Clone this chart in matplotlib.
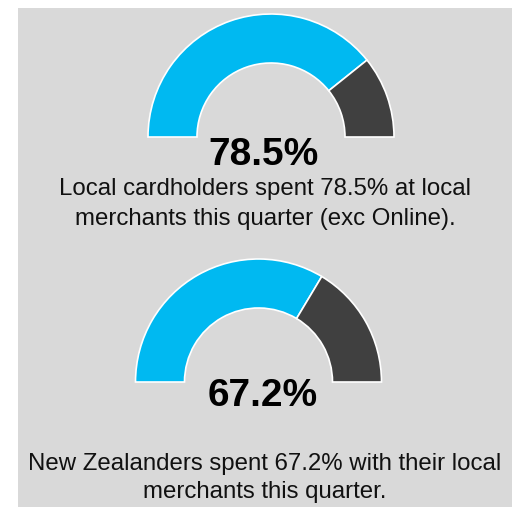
import matplotlib
matplotlib.use("Agg")
import matplotlib.pyplot as plt
from matplotlib.patches import Wedge, Rectangle

# Valeurs des jauges
valeurs = [78.5, 67.2]
libelles = ["78.5%", "67.2%"]
descriptions = [
    ["Local cardholders spent 78.5% at local", "merchants this quarter (exc Online)."],
    ["New Zealanders spent 67.2% with their local", "merchants this quarter."],
]

W, H = 512, 507
CYAN = "#00b9f1"
GRIS_FONCE = "#404040"
FOND = "#d9d9d9"

plt.rcParams["font.family"] = ["Liberation Sans", "DejaVu Sans"]

fig = plt.figure(figsize=(W / 100, H / 100), dpi=100)
ax = fig.add_axes([0, 0, 1, 1])
ax.set_xlim(0, W)
ax.set_ylim(0, H)
ax.axis("off")

# panneau gris
ax.add_patch(Rectangle((18, 0), W - 18, H - 8, facecolor=FOND, edgecolor="none", zorder=0))


def jauge(cx, cy_px, valeur, r_ext=123, r_int=74):
    """Demi-anneau : partie remplie (cyan) puis le reste (gris foncé)."""
    cy = H - cy_px
    angle = 180 - 180 * valeur / 100
    largeur = r_ext - r_int
    ax.add_patch(Wedge((cx, cy), r_ext, angle, 180, width=largeur,
                       facecolor=CYAN, edgecolor="white", linewidth=1.2, zorder=2))
    ax.add_patch(Wedge((cx, cy), r_ext, 0, angle, width=largeur,
                       facecolor=GRIS_FONCE, edgecolor="white", linewidth=1.2, zorder=2))


# positions en pixels (depuis le haut)
centres = [(271, 137), (258.5, 382)]
y_nombres = [165, 406]
x_nombres = [263.5, 263]
y_textes = [(195, 225), (470, 498)]

for i in range(2):
    jauge(centres[i][0], centres[i][1], valeurs[i])
    ax.text(x_nombres[i], H - y_nombres[i], libelles[i], ha="center", va="baseline",
            fontsize=28, fontweight="bold", color="black", zorder=3)
    for ligne, y in zip(descriptions[i], y_textes[i]):
        ax.text(265, H - y, ligne, ha="center", va="baseline",
                fontsize=17.3, color="#111111", zorder=3)

fig.savefig("out.png", dpi=100, facecolor="white")
